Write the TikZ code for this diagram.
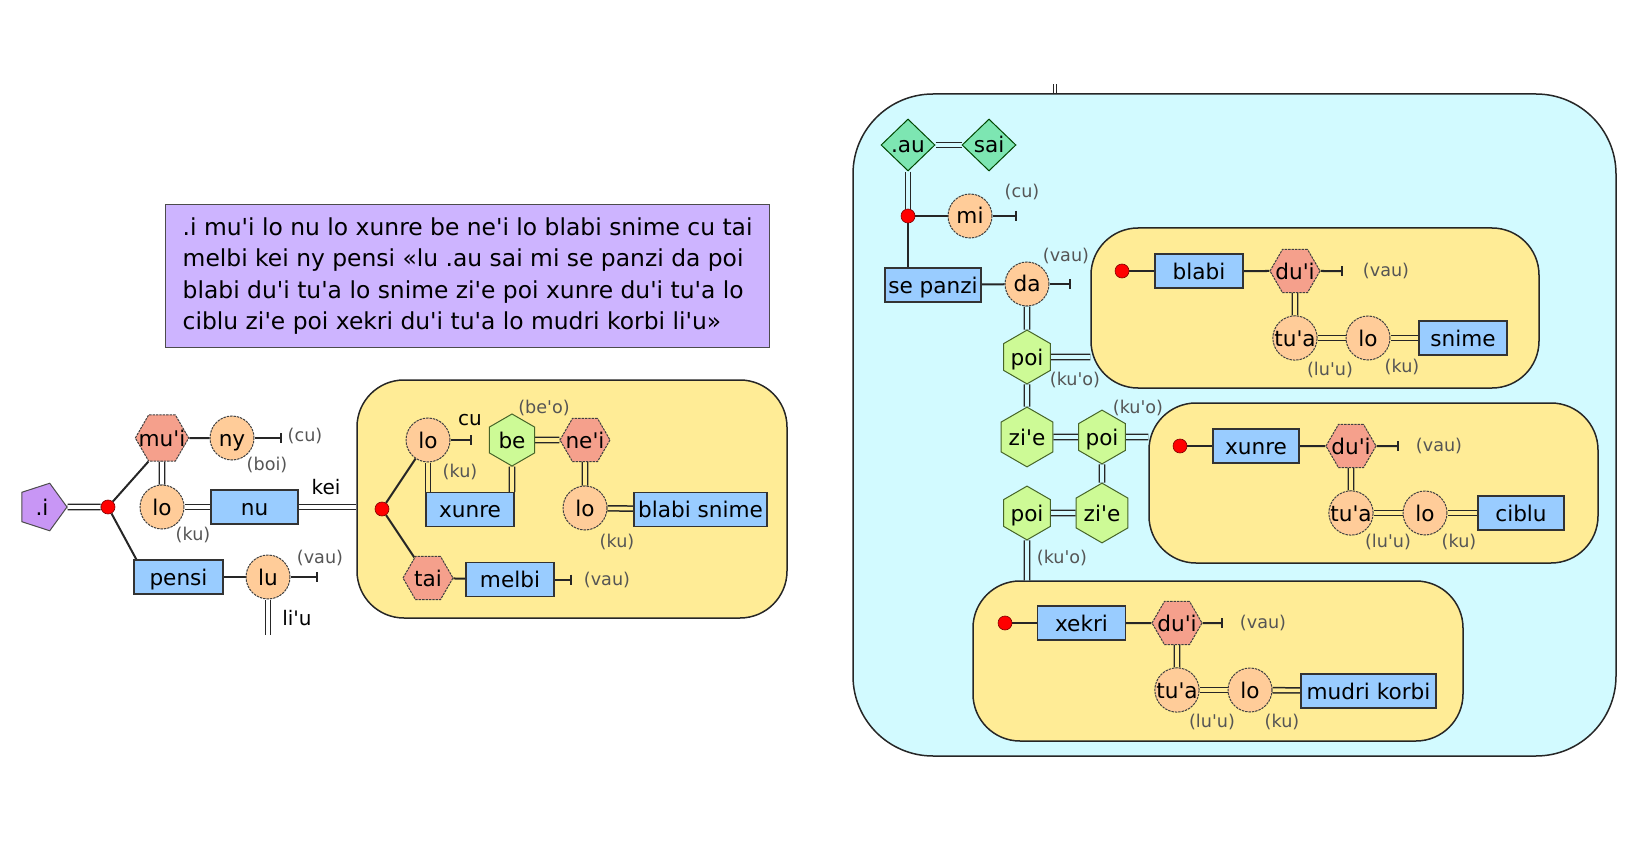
\documentclass[tikz,border=0pt]{standalone}
\usepackage{fontspec}
\setmainfont{DejaVu Sans}[Ligatures=TeXOff]
\usetikzlibrary{shapes.geometric,arrows.meta}

\definecolor{pentfill}{RGB}{200,150,245}
\definecolor{lilac}{RGB}{205,180,255}
\definecolor{salmon}{RGB}{245,160,140}
\definecolor{peach}{RGB}{255,204,153}
\definecolor{skyblue}{RGB}{153,204,255}
\definecolor{leaf}{RGB}{205,250,150}
\definecolor{leafdark}{RGB}{70,100,40}
\definecolor{mint}{RGB}{125,230,178}
\definecolor{sand}{RGB}{255,236,150}
\definecolor{ice}{RGB}{210,250,255}
\definecolor{tagc}{RGB}{85,85,85}

\newcommand{\nodefont}{\fontsize{10.8}{12}\selectfont}
\newcommand{\tagfont}{\fontsize{8.8}{10}\selectfont}
\newcommand{\elidefont}{\fontsize{10}{12}\selectfont}

\pgfdeclarelayer{back}
\pgfdeclarelayer{mid}
\pgfsetlayers{back,mid,main}

\tikzset{
  base/.style={inner sep=0pt, text height=8pt, text depth=0pt, font=\nodefont},
  sumti/.style={base, circle, minimum size=22pt, fill=peach, draw=black!75, line width=0.5pt, dash pattern=on 1.2pt off 0.5pt},
  brivla/.style={base, rectangle, minimum width=44pt, minimum height=17pt, fill=skyblue, draw=black!80, line width=0.7pt},
  hexred/.style={base, regular polygon, regular polygon sides=6, minimum size=25pt, inner sep=-3.5pt, fill=salmon, draw=black!75, line width=0.5pt, dash pattern=on 1.2pt off 0.5pt},
  hexgreen/.style={base, regular polygon, regular polygon sides=6, shape border rotate=30, minimum size=26pt, fill=leaf, draw=leafdark, line width=0.5pt},
  attitude/.style={base, diamond, minimum width=27pt, minimum height=26pt, fill=mint, draw=black!60!green!70!black, line width=0.5pt},
  pent/.style={base, regular polygon, regular polygon sides=5, shape border rotate=-90, minimum size=25pt, fill=pentfill, draw=black!70, line width=0.5pt},
  joint/.style={circle, inner sep=0pt, minimum size=7pt, fill=red, draw=red!50!black, line width=0.3pt},
  clause/.style={rectangle, rounded corners=23.5pt, fill=sand, draw=black!85, line width=0.75pt},
  quotebox/.style={clause, rounded corners=40pt, fill=ice},
  sentence/.style={rectangle, fill=lilac, draw=black!70, line width=0.6pt, minimum width=302pt, minimum height=71.5pt, inner sep=0pt, align=left, font=\fontsize{11.7}{15.75}\selectfont},
  tagl/.style={inner sep=0pt, font=\tagfont, text=tagc},
  elide/.style={inner sep=0pt, font=\elidefont},
  link/.style={draw=black!85, line width=1pt},
  stop/.style={link, -{Bar[width=5pt]}},
  dbl/.style={draw=black!85, line width=0.75pt, double=white, double distance=1.8pt},
  dbly/.style={dbl, double=sand},
  dblc/.style={dbl, double=ice}
}

\begin{document}
\begin{tikzpicture}[x=0.5pt, y=-0.5pt]
\useasboundingbox (0,0) rectangle (1640,856);

% Boxes behind everything
\begin{pgfonlayer}{back}
  \node[clause, minimum width=215pt, minimum height=119pt] (yb1) at (572,499) {};
  \node[quotebox, minimum width=381.5pt, minimum height=331pt] (quote) at (1234.5,425) {};
  \node[clause, minimum width=224pt, minimum height=80pt] (yb2) at (1315,308) {};
  \node[clause, minimum width=224.5pt, minimum height=80pt] (yb3) at (1373.5,483) {};
  \node[clause, minimum width=245pt, minimum height=80pt] (yb4) at (1218,661) {};
\end{pgfonlayer}

% Sentence
\node[sentence, anchor=north west] (lojban) at (165,204) {.i mu'i lo nu lo xunre be ne'i lo blabi snime cu tai\\
melbi kei ny pensi «lu .au sai mi se panzi da poi\\
blabi du'i tu'a lo snime zi'e poi xunre du'i tu'a lo\\
ciblu zi'e poi xekri du'i tu'a lo mudri korbi li'u»};

% Left tree
\node[pent] (iPent) at (42,507) {.i};
\node[joint] (d1) at (108,507) {};
\node[hexred] (mui) at (162,438) {mu'i};
\node[sumti] (ny) at (232,438) {ny};
\coordinate (nyEnd) at (282,438);
\node[sumti] (loA) at (162,507) {lo};
\node[brivla, minimum width=43.5pt] (nu) at (254.5,507) {nu};
\node[brivla, minimum width=44.5pt] (pensi) at (178.5,577) {pensi};
\node[sumti] (lu) at (268,577) {lu};
\coordinate (luEnd) at (318,577);
\coordinate (liuEnd) at (268,635);

\node[tagl] (cuTagA) at (305,436) {(cu)};
\node[tagl] (boiTag) at (267,465) {(boi)};
\node[tagl] (kuTagA) at (193,535) {(ku)};
\node[elide] (keiTag) at (326,487) {kei};
\node[tagl] (vauTagA) at (320,558) {(vau)};
\node[elide] (liuTag) at (297,618) {li'u};

% Inside the first clause
\node[joint] (d2) at (382,509) {};
\node[sumti] (loB) at (428,440) {lo};
\coordinate (loBEnd) at (472,440);
\node[hexgreen] (be) at (512,440) {be};
\node[hexred] (nei) at (585,440) {ne'i};
\node[sumti] (loC) at (585,508) {lo};
\node[brivla, minimum width=66.5pt] (blsn) at (700.5,509.5) {blabi snime};
\node[brivla] (xunreA) at (470,509.5) {xunre};
\node[hexred] (tai) at (428,578) {tai};
\node[brivla] (melbi) at (510,579.5) {melbi};
\coordinate (melbiEnd) at (572,579.5);

\node[elide] (cuTagB) at (470,420) {cu};
\node[tagl] (kuTagB) at (460,472) {(ku)};
\node[tagl] (behoTag) at (544,408) {(be'o)};
\node[tagl] (kuTagC) at (617,542) {(ku)};
\node[tagl] (vauTagB) at (607,580) {(vau)};

% Quote
\coordinate (liuTop) at (1055,84);
\node[attitude] (au) at (908,145) {.au};
\node[attitude] (sai) at (989,145) {sai};
\node[joint] (d3) at (908,216) {};
\node[sumti] (mi) at (970,216) {mi};
\coordinate (miEnd) at (1017,216);
\node[brivla, minimum width=48pt] (sepanzi) at (933,285) {se panzi};
\node[sumti] (da) at (1027,284) {da};
\coordinate (daEnd) at (1071,284);
\node[hexgreen] (poiA) at (1027,357) {poi};
\node[hexgreen] (zieA) at (1027,437) {zi'e};
\node[hexgreen] (poiB) at (1102,437) {poi};
\node[hexgreen] (zieB) at (1102,513) {zi'e};
\node[hexgreen] (poiC) at (1027,513) {poi};

\node[tagl] (cuTagC) at (1022,192) {(cu)};
\node[tagl] (vauTagC) at (1066,256) {(vau)};
\node[tagl] (kuoTagA) at (1075,380) {(ku'o)};
\node[tagl] (kuoTagB) at (1138,408) {(ku'o)};
\node[tagl] (kuoTagC) at (1062,558) {(ku'o)};

% Relative clause 1
\node[joint] (d4) at (1122,271) {};
\node[brivla] (blabi) at (1199,271) {blabi};
\node[hexred] (duhiA) at (1295,271) {du'i};
\coordinate (duhiAEnd) at (1343,271);
\node[sumti] (tuaA) at (1295,338) {tu'a};
\node[sumti] (loD) at (1368,338) {lo};
\node[brivla] (snime) at (1463,338) {snime};
\node[tagl] (vauTagD) at (1386,271) {(vau)};
\node[tagl] (luhuTagA) at (1330,370) {(lu'u)};
\node[tagl] (kuTagD) at (1402,367) {(ku)};

% Relative clause 2
\node[joint] (d5) at (1180,446) {};
\node[brivla, minimum width=43pt] (xunreB) at (1256,446) {xunre};
\node[hexred] (duhiB) at (1351,446) {du'i};
\coordinate (duhiBEnd) at (1399,446);
\node[sumti] (tuaB) at (1351,513) {tu'a};
\node[sumti] (loE) at (1425,513) {lo};
\node[brivla, minimum width=43pt] (ciblu) at (1521,513) {ciblu};
\node[tagl] (vauTagE) at (1439,446) {(vau)};
\node[tagl] (luhuTagB) at (1388,542) {(lu'u)};
\node[tagl] (kuTagE) at (1459,542) {(ku)};

% Relative clause 3
\node[joint] (d6) at (1005,623) {};
\node[brivla] (xekri) at (1081.5,623) {xekri};
\node[hexred] (duhiC) at (1177,623) {du'i};
\coordinate (duhiCEnd) at (1223,623);
\node[sumti] (tuaC) at (1177,690) {tu'a};
\node[sumti] (loF) at (1250,690) {lo};
\node[brivla, minimum width=67.5pt] (mudri) at (1368.5,691) {mudri korbi};
\node[tagl] (vauTagF) at (1263,623) {(vau)};
\node[tagl] (luhuTagC) at (1212,722) {(lu'u)};
\node[tagl] (kuTagF) at (1282,722) {(ku)};

% Connectors
\begin{pgfonlayer}{mid}
  \draw[dbl] (iPent) -- (d1);
  \draw[link] (d1) -- (mui.240);
  \draw[link] (d1) -- ([xshift=1.5pt]pensi.north west);
  \draw[link] (mui) -- (ny);
  \draw[stop] (ny) -- (nyEnd);
  \draw[dbl] (mui) -- (loA);
  \draw[dbl] (loA) -- (nu);
  \draw[dbl] (nu.east) -- (nu.east -| yb1.west);
  \draw[link] (pensi) -- (lu);
  \draw[stop] (lu) -- (luEnd);
  \draw[dbl] (lu) -- (liuEnd);

  \draw[link] (d2) -- (loB);
  \draw[link] (d2) -- (tai);
  \draw[stop] (loB) -- (loBEnd);
  \draw[dbly] (loB) -- (loB |- xunreA.north);
  \draw[dbly] (be) -- (be |- xunreA.north);
  \draw[dbly] (be) -- (nei);
  \draw[dbly] (nei) -- (loC);
  \draw[dbly] (loC) -- (blsn);
  \draw[link] (tai) -- (melbi);
  \draw[stop] (melbi) -- (melbiEnd);

  \draw[dbl, line width=0.5pt, double distance=1.2pt] (liuTop) -- (liuTop |- quote.north);
  \draw[dblc] (au) -- (sai);
  \draw[dblc] (au) -- (d3);
  \draw[link] (d3) -- (mi);
  \draw[stop] (mi) -- (miEnd);
  \draw[link] (d3) -- (d3 |- sepanzi.north);
  \draw[link] (sepanzi) -- (da);
  \draw[stop] (da) -- (daEnd);
  \draw[dblc] (da) -- (poiA);
  \draw[dblc] (poiA) -- (poiA -| yb2.west);
  \draw[dblc] (poiA) -- (zieA);
  \draw[dblc] (zieA) -- (poiB);
  \draw[dblc] (poiB) -- (poiB -| yb3.west);
  \draw[dblc] (poiB) -- (zieB);
  \draw[dblc] (poiC) -- (zieB);
  \draw[dblc] (poiC) -- (poiC |- yb4.north);

  \draw[link] (d4) -- (blabi);
  \draw[link] (blabi) -- (duhiA);
  \draw[stop] (duhiA) -- (duhiAEnd);
  \draw[dbly] (duhiA) -- (tuaA);
  \draw[dbly] (tuaA) -- (loD);
  \draw[dbly] (loD) -- (snime);

  \draw[link] (d5) -- (xunreB);
  \draw[link] (xunreB) -- (duhiB);
  \draw[stop] (duhiB) -- (duhiBEnd);
  \draw[dbly] (duhiB) -- (tuaB);
  \draw[dbly] (tuaB) -- (loE);
  \draw[dbly] (loE) -- (ciblu);

  \draw[link] (d6) -- (xekri);
  \draw[link] (xekri) -- (duhiC);
  \draw[stop] (duhiC) -- (duhiCEnd);
  \draw[dbly] (duhiC) -- (tuaC);
  \draw[dbly] (tuaC) -- (loF);
  \draw[dbly] (loF) -- (mudri);
\end{pgfonlayer}

\end{tikzpicture}
\end{document}
